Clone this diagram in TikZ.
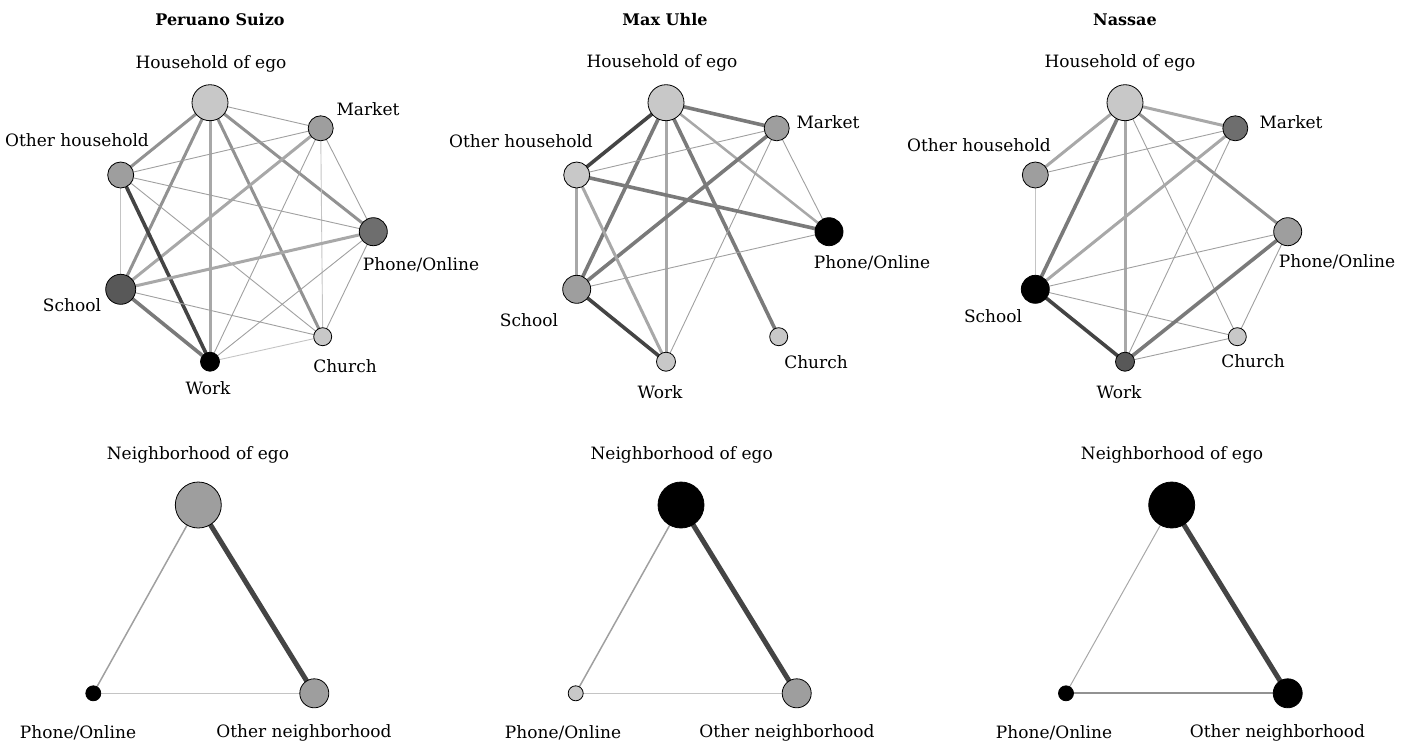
\documentclass[tikz,border=0pt]{standalone}
\usepackage{fontspec}
\setmainfont{DejaVu Serif}
\usetikzlibrary{backgrounds}
\definecolor{nlight}{HTML}{C8C8C8}
\definecolor{nmid}{HTML}{9E9E9E}
\definecolor{ndark}{HTML}{6E6E6E}
\definecolor{ndarker}{HTML}{585858}
\definecolor{ethin}{HTML}{A0A0A0}
\definecolor{ethinl}{HTML}{C4C4C4}
\definecolor{elmid}{HTML}{A8A8A8}
\definecolor{emid}{HTML}{929292}
\definecolor{egray}{HTML}{7A7A7A}
\definecolor{edark}{HTML}{444444}
\tikzset{
  nd/.style={circle,draw=black,line width=0.8pt,inner sep=0pt,minimum size=#1},
  lbl/.style={inner sep=0pt,font=\fontsize{17}{20}\selectfont},
  ttl/.style={inner sep=0pt,font=\fontsize{16}{19}\selectfont\bfseries},
  t1/.style={draw=ethin,line width=0.9pt},
  t1l/.style={draw=ethinl,line width=0.9pt},
  t2/.style={draw=elmid,line width=3pt},
  t3/.style={draw=emid,line width=3pt},
  t4/.style={draw=egray,line width=3.6pt},
  t5/.style={draw=edark,line width=3.6pt},
  bthick/.style={draw=edark,line width=5pt},
}
\begin{document}
\begin{tikzpicture}[x=1pt,y=-1pt]
\useasboundingbox (0,0) rectangle (1412,744);
% titles
\node[ttl] (t1) at (220,20) {Peruano Suizo};
\node[ttl] (t2) at (665,20) {Max Uhle};
\node[ttl] (t3) at (1125,20) {Nassae};
% ---------- Panel 1 ----------
\node[nd=36pt,fill=nlight] (ahh) at (210,102.7) {};
\node[nd=25pt,fill=nmid] (amk) at (320.7,128.3) {};
\node[nd=26pt,fill=nmid] (aoh) at (120.7,175) {};
\node[nd=28pt,fill=ndark] (aph) at (373.3,231.7) {};
\node[nd=30pt,fill=ndarker] (asc) at (120.7,289.3) {};
\node[nd=18pt,fill=nlight] (ach) at (322.7,336.7) {};
\node[nd=19pt,fill=black] (awk) at (210,361.7) {};
\node[lbl] (lahh) at (211,64) {Household of ego};
\node[lbl] (lamk) at (368,109) {Market};
\node[lbl] (laoh) at (77,140) {Other household};
\node[lbl] (laph) at (421,265) {Phone/Online};
\node[lbl] (lasc) at (72,305) {School};
\node[lbl] (lach) at (345,366) {Church};
\node[lbl] (lawk) at (208,388) {Work};
% ---------- Panel 2 ----------
\node[nd=36pt,fill=nlight] (bhh) at (666,102.7) {};
\node[nd=25pt,fill=nmid] (bmk) at (776.7,128.3) {};
\node[nd=26pt,fill=nlight] (boh) at (576.7,175) {};
\node[nd=28pt,fill=black] (bph) at (829,231.7) {};
\node[nd=28pt,fill=nmid] (bsc) at (576.7,289.3) {};
\node[nd=18pt,fill=nlight] (bch) at (778.7,336.7) {};
\node[nd=19pt,fill=nlight] (bwk) at (666,361.7) {};
\node[lbl] (lbhh) at (662,63) {Household of ego};
\node[lbl] (lbmk) at (828,122) {Market};
\node[lbl] (lboh) at (521,141) {Other household};
\node[lbl] (lbph) at (872,263) {Phone/Online};
\node[lbl] (lbsc) at (529,320) {School};
\node[lbl] (lbch) at (816,362) {Church};
\node[lbl] (lbwk) at (660,392) {Work};
% ---------- Panel 3 ----------
\node[nd=36pt,fill=nlight] (chh) at (1125,102.7) {};
\node[nd=25pt,fill=ndark] (cmk) at (1235.3,128.3) {};
\node[nd=26pt,fill=nmid] (coh) at (1035.3,175) {};
\node[nd=28pt,fill=nmid] (cph) at (1287.7,231.7) {};
\node[nd=28pt,fill=black] (csc) at (1035.3,289.3) {};
\node[nd=18pt,fill=nlight] (cch) at (1237.3,336.7) {};
\node[nd=19pt,fill=ndarker] (cwk) at (1125,361.7) {};
\node[lbl] (lchh) at (1120,63) {Household of ego};
\node[lbl] (lcmk) at (1291,122) {Market};
\node[lbl] (lcoh) at (979,145) {Other household};
\node[lbl] (lcph) at (1337,262) {Phone/Online};
\node[lbl] (lcsc) at (993,316) {School};
\node[lbl] (lcch) at (1253,361) {Church};
\node[lbl] (lcwk) at (1119,392) {Work};
% ---------- Bottom panels ----------
\node[nd=46pt,fill=nmid] (dne) at (198.3,505) {};
\node[nd=15pt,fill=black] (dph) at (93.3,693.3) {};
\node[nd=29pt,fill=nmid] (don) at (314.3,693.3) {};
\node[lbl] (ldne) at (198,455) {Neighborhood of ego};
\node[lbl] (ldph) at (78,733) {Phone/Online};
\node[lbl] (ldon) at (304,733) {Other neighborhood};
\node[nd=46pt,fill=black] (ene) at (681,505) {};
\node[nd=15pt,fill=nlight] (eph) at (575.7,693.3) {};
\node[nd=29pt,fill=nmid] (eon) at (796.7,693.3) {};
\node[lbl] (lene) at (681.7,455) {Neighborhood of ego};
\node[lbl] (leph) at (563,733) {Phone/Online};
\node[lbl] (leon) at (787,733) {Other neighborhood};
\node[nd=46pt,fill=black] (fne) at (1171.7,505) {};
\node[nd=15pt,fill=black] (fph) at (1066,693.3) {};
\node[nd=29pt,fill=black] (fon) at (1287.7,693.3) {};
\node[lbl] (lfne) at (1172,455) {Neighborhood of ego};
\node[lbl] (lfph) at (1054,733) {Phone/Online};
\node[lbl] (lfon) at (1277.5,733) {Other neighborhood};
\begin{pgfonlayer}{background}
% panel 1 edges
\draw[t1] (ahh.center) -- (amk.center);
\draw[t3] (ahh.center) -- (aoh.center);
\draw[t3] (ahh.center) -- (asc.center);
\draw[t2] (ahh.center) -- (awk.center);
\draw[t3] (ahh.center) -- (ach.center);
\draw[t3] (ahh.center) -- (aph.center);
\draw[t1] (amk.center) -- (aoh.center);
\draw[t2] (amk.center) -- (asc.center);
\draw[t1] (amk.center) -- (aph.center);
\draw[t1l] (amk.center) -- (ach.center);
\draw[t1] (amk.center) -- (awk.center);
\draw[t1] (aoh.center) -- (aph.center);
\draw[t1l] (aoh.center) -- (asc.center);
\draw[t5] (aoh.center) -- (awk.center);
\draw[t1] (aoh.center) -- (ach.center);
\draw[t2] (aph.center) -- (asc.center);
\draw[t1] (aph.center) -- (ach.center);
\draw[t1] (aph.center) -- (awk.center);
\draw[t4] (asc.center) -- (awk.center);
\draw[t1] (asc.center) -- (ach.center);
\draw[t1l] (ach.center) -- (awk.center);
% panel 2 edges
\draw[t4] (bhh.center) -- (bmk.center);
\draw[t5] (bhh.center) -- (boh.center);
\draw[t4] (bhh.center) -- (bsc.center);
\draw[t2] (bhh.center) -- (bwk.center);
\draw[t4] (bhh.center) -- (bch.center);
\draw[t2,line width=2.5pt] (bhh.center) -- (bph.center);
\draw[t1] (bmk.center) -- (boh.center);
\draw[t4] (bmk.center) -- (bsc.center);
\draw[t1] (bmk.center) -- (bph.center);
\draw[t1] (bmk.center) -- (bwk.center);
\draw[t4] (boh.center) -- (bph.center);
\draw[t2] (boh.center) -- (bsc.center);
\draw[t2] (boh.center) -- (bwk.center);
\draw[t1] (bsc.center) -- (bph.center);
\draw[t5] (bsc.center) -- (bwk.center);
% panel 3 edges
\draw[t2] (chh.center) -- (cmk.center);
\draw[t2] (chh.center) -- (coh.center);
\draw[t4] (chh.center) -- (csc.center);
\draw[t2] (chh.center) -- (cwk.center);
\draw[t1] (chh.center) -- (cch.center);
\draw[t3] (chh.center) -- (cph.center);
\draw[t1] (cmk.center) -- (coh.center);
\draw[t2] (cmk.center) -- (csc.center);
\draw[t1] (cmk.center) -- (cwk.center);
\draw[t1l] (coh.center) -- (csc.center);
\draw[t1] (csc.center) -- (cph.center);
\draw[t1] (csc.center) -- (cch.center);
\draw[t5] (csc.center) -- (cwk.center);
\draw[t4] (cph.center) -- (cwk.center);
\draw[t1] (cph.center) -- (cch.center);
\draw[t1] (cch.center) -- (cwk.center);
% bottom edges
\draw[draw=ethin,line width=1.5pt] (dne.center) -- (dph.center);
\draw[bthick] (dne.center) -- (don.center);
\draw[draw=ethinl,line width=1.3pt] (dph.center) -- (don.center);
\draw[draw=ethin,line width=1.5pt] (ene.center) -- (eph.center);
\draw[bthick] (ene.center) -- (eon.center);
\draw[draw=ethinl,line width=1.3pt] (eph.center) -- (eon.center);
\draw[draw=elmid,line width=1pt] (fne.center) -- (fph.center);
\draw[bthick] (fne.center) -- (fon.center);
\draw[draw=emid,line width=2pt] (fph.center) -- (fon.center);
\end{pgfonlayer}
\end{tikzpicture}
\end{document}
